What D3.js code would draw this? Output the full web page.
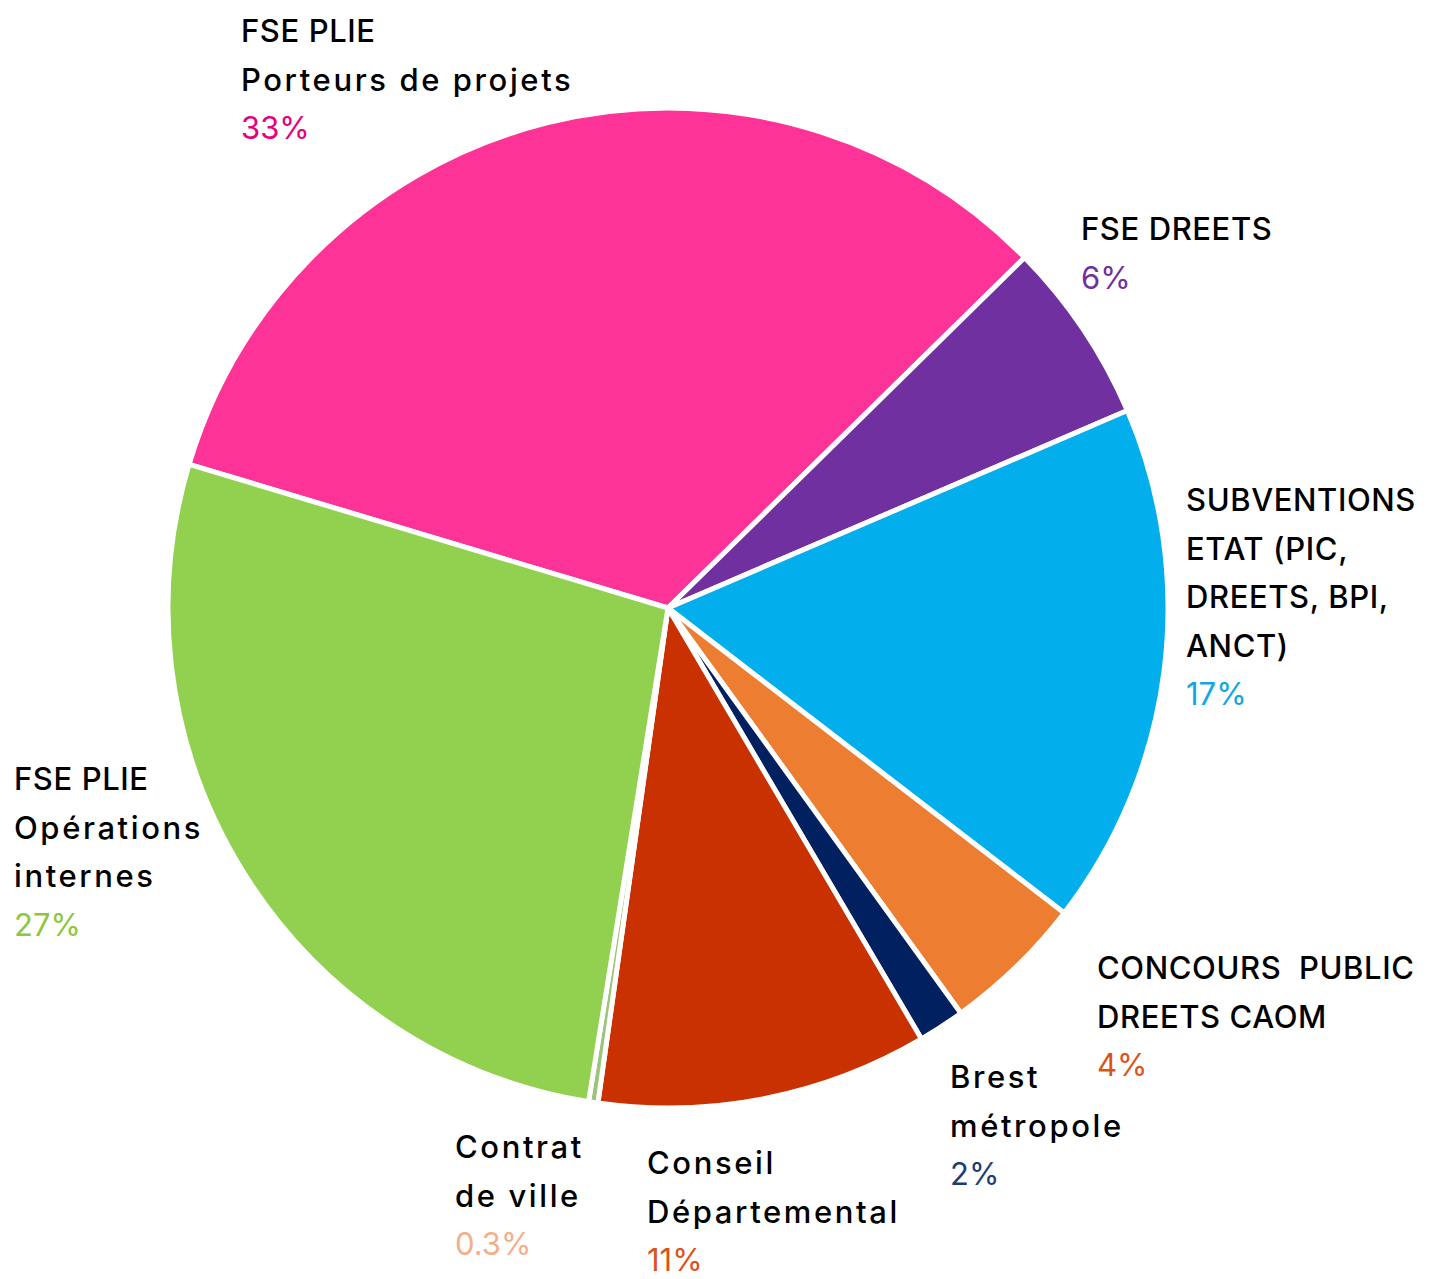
<!DOCTYPE html>
<html>
<head>
<meta charset="utf-8">
<script src="https://cdn.jsdelivr.net/npm/d3@7"></script>
<style>
  body { margin: 0; background: #fff; }
  svg text { font-family: Inter, "Noto Sans", sans-serif; font-size: 31px; font-weight: 500; }
</style>
</head>
<body>
<div id="chart"></div>
<script>
// data
var categories = [
  'FSE PLIE Porteurs de projets',
  'FSE DREETS',
  'SUBVENTIONS ETAT (PIC, DREETS, BPI, ANCT)',
  'CONCOURS PUBLIC DREETS CAOM',
  'Brest métropole',
  'Conseil Départemental',
  'Contrat de ville',
  'FSE PLIE Opérations internes'
];
var values = [33, 5.9, 16.9, 4.6, 1.5, 10.7, 0.3, 27.1];
var pctLabels = ['33%', '6%', '17%', '4%', '2%', '11%', '0.3%', '27%'];
var labelLines = [
  ['FSE PLIE', 'Porteurs de projets'],
  ['FSE DREETS'],
  ['SUBVENTIONS', 'ETAT (PIC,', 'DREETS, BPI,', 'ANCT)'],
  ['CONCOURS  PUBLIC', 'DREETS CAOM'],
  ['Brest', 'métropole'],
  ['Conseil', 'Départemental'],
  ['Contrat', 'de ville'],
  ['FSE PLIE', 'Opérations', 'internes']
];

var sliceColors = ['#fe3397', '#7030a0', '#03aeec', '#ed7d31', '#002060', '#c93100', '#9cc47a', '#92d050'];
var pctColors = ['#e6007e', '#7030a0', '#0fa6e3', '#dc5319', '#1f3c73', '#dc5319', '#f4ae8c', '#8dc63f'];

// label anchors (left x, first baseline)
var labelPos = [[241, 42], [1081, 240], [1186, 511], [1097, 979], [950, 1088], [647, 1174], [455, 1158], [14, 790]];

var width = 1435;
var height = 1279;
var cx = 668;
var cy = 608;
var radius = 500;
var lineH = 48.5;
var start = -73.3 * Math.PI / 180;

var svg = d3
  .select('#chart')
  .append('svg')
  .attr('width', width)
  .attr('height', height);

var pie = d3
  .pie()
  .sort(null)
  .value(d => d)
  .startAngle(start)
  .endAngle(start + 2 * Math.PI);

var arc = d3.arc().innerRadius(0).outerRadius(radius);

var graph = svg.append('g').attr('transform', 'translate(' + cx + ',' + cy + ')');

graph
  .selectAll('path')
  .data(pie(values))
  .enter()
  .append('path')
  .attr('d', arc)
  .attr('fill', (d, i) => sliceColors[i])
  .attr('stroke', '#fff')
  .attr('stroke-width', 5)
  .attr('stroke-linejoin', 'round');

// labels
var labels = svg
  .selectAll('g.label')
  .data(categories)
  .enter()
  .append('g')
  .attr('class', 'label')
  .attr('transform', (d, i) => 'translate(' + labelPos[i][0] + ',' + labelPos[i][1] + ')');

labels.each(function (d, i) {
  var g = d3.select(this);
  labelLines[i].forEach((line, j) => {
    // the original font is wider, mostly in lowercase
    var caps = line === line.toUpperCase();
    g.append('text')
      .attr('y', j * lineH)
      .attr('fill', '#000')
      .style('white-space', 'pre')
      .style('letter-spacing', caps ? '0.6px' : '2.6px')
      .text(line);
  });
  g.append('text')
    .attr('y', labelLines[i].length * lineH)
    .attr('fill', pctColors[i])
    .style('font-weight', 400)
    .text(pctLabels[i]);
});
</script>
</body>
</html>
